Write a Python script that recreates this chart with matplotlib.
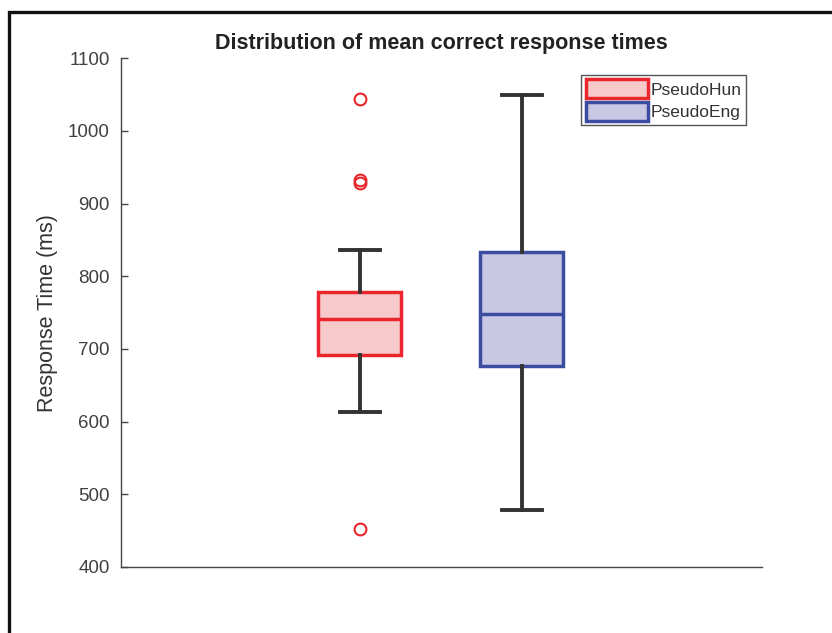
import matplotlib
matplotlib.use('Agg')
import matplotlib.pyplot as plt
from matplotlib.patches import Rectangle

plt.rcParams['font.family'] = ['Liberation Sans', 'DejaVu Sans']

# -------------------------
# data
# -------------------------
groups = ['PseudoHun', 'PseudoEng']
q1 = [692, 677]
median = [741, 748]
q3 = [778, 833]
whisker_low = [613, 478]
whisker_high = [836, 1049]
outliers = [[1044, 933, 929, 452], []]

edge_colors = ['#E8262B', '#3A4DA0']
fill_colors = ['#F8C9CA', '#C9C8E4']

stats = []
for i, name in enumerate(groups):
    stats.append({
        'label': name,
        'q1': q1[i], 'med': median[i], 'q3': q3[i],
        'whislo': whisker_low[i], 'whishi': whisker_high[i],
        'fliers': outliers[i],
    })

fig = plt.figure(figsize=(8.32, 6.33), dpi=100)
ax = fig.add_axes([0.1454, 0.1043, 0.7705, 0.8036])

bp = ax.bxp(stats, positions=[0.99, 2], widths=0.52, patch_artist=True,
            showfliers=True, capwidths=0.25,
            whiskerprops=dict(color='#333333', linewidth=2.8),
            capprops=dict(color='#333333', linewidth=2.8),
            medianprops=dict(linewidth=2.5),
            boxprops=dict(linewidth=2.5))

for i, box in enumerate(bp['boxes']):
    box.set_facecolor(fill_colors[i])
    box.set_edgecolor(edge_colors[i])
    bp['medians'][i].set_color(edge_colors[i])
    bp['fliers'][i].set(marker='o', markerfacecolor='none',
                        markeredgecolor=edge_colors[i], markersize=8.5,
                        markeredgewidth=1.5)

ax.set_xlim(-0.5, 3.5)
ax.set_ylim(400, 1100)
ax.set_yticks(range(400, 1101, 100))
ax.set_xticks([])

for side in ['top', 'right']:
    ax.spines[side].set_visible(False)
for side in ['left', 'bottom']:
    ax.spines[side].set_color('#444444')
    ax.spines[side].set_linewidth(1.0)

ax.tick_params(axis='y', direction='in', length=5, width=1, color='#444444',
               labelsize=13.5, labelcolor='#404040', pad=8)

ax.set_ylabel('Response Time (ms)', fontsize=15.5, color='#333333', labelpad=7)
ax.set_title('Distribution of mean correct response times', fontsize=15.5,
             fontweight='bold', color='#222222', pad=7)

leg = ax.legend(bp['boxes'], groups, loc='upper right',
                bbox_to_anchor=(0.975, 0.967), borderaxespad=0,
                fontsize=12.5, handlelength=3.6, handleheight=1.3,
                handletextpad=0.15, labelspacing=0.2, borderpad=0.25,
                fancybox=False, framealpha=1, edgecolor='#555555')
leg.get_frame().set_linewidth(1.0)
for t in leg.get_texts():
    t.set_color('#333333')

# screenshot frame (left and top edges only visible)
fig.add_artist(Rectangle((0.0108, -0.1), 1.2, 1.0818, transform=fig.transFigure,
                         fill=False, edgecolor='#111111', linewidth=2.4))

fig.savefig('out.png', dpi=100)
